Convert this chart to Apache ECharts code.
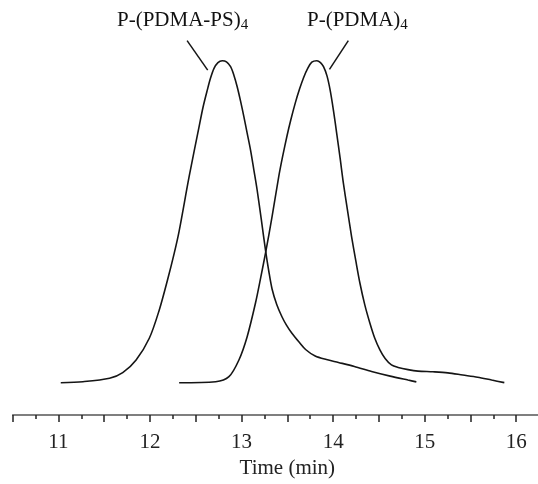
<!DOCTYPE html>
<html>
<head>
<meta charset="utf-8">
<script src="https://cdn.jsdelivr.net/npm/echarts@6/dist/echarts.min.js"></script>
<style>
  html, body { margin: 0; padding: 0; background: #fff; overflow: hidden; }
  /* the time axis runs on past the right edge of the window */
  #chart { width: 565px; height: 484px; }
</style>
</head>
<body>
<div id="chart"></div>
<script>
// GPC traces: elution time (min) vs. detector signal (arbitrary units)
const pdmaPsTime = [11.025, 11.267, 11.558, 11.702, 11.848, 11.992, 12.101, 12.191, 12.264, 12.318,
  12.427, 12.536, 12.579, 12.626, 12.661, 12.699, 12.742, 12.789, 12.835, 12.880,
  12.916, 12.952, 12.989, 13.025, 13.061, 13.098, 13.134, 13.170, 13.215, 13.264,
  13.297, 13.333, 13.384, 13.441, 13.492, 13.550, 13.623, 13.699, 13.804, 13.927,
  14.058, 14.232, 14.420, 14.623, 14.818, 14.909];
const pdmaPsSignal = [8.97, 9.25, 10.19, 11.75, 15.28, 21.31, 29.17, 37.5, 44.9, 51.1,
  66.2, 80.1, 85.5, 90.3, 93.6, 96.3, 97.9, 98.4, 98.1, 96.75,
  94.4, 91.2, 87.2, 82.9, 78.3, 73.6, 68.1, 62.5, 54.4, 45.3,
  40.0, 35.0, 30.7, 27.3, 24.9, 22.7, 20.4, 18.2, 16.4, 15.4,
  14.6, 13.5, 12.1, 10.8, 9.7, 9.2];

const pdmaTime = [12.318, 12.717, 12.862, 12.971, 13.061, 13.152, 13.210, 13.264, 13.333, 13.405,
  13.449, 13.496, 13.536, 13.587, 13.634, 13.677, 13.721, 13.767, 13.822, 13.862,
  13.895, 13.933, 13.967, 14.003, 14.039, 14.076, 14.112, 14.155, 14.202, 14.248,
  14.293, 14.346, 14.402, 14.454, 14.511, 14.568, 14.637, 14.710, 14.818, 14.927,
  15.090, 15.253, 15.416, 15.579, 15.732, 15.870];
const pdmaSignal = [8.97, 9.25, 10.64, 15.28, 21.75, 31.1, 38.3, 45.3, 55.1, 66.1,
  71.9, 77.5, 81.8, 86.7, 90.6, 93.7, 96.2, 98.0, 98.4, 97.9,
  96.75, 94.2, 90.3, 84.7, 78.25, 71.4, 64.4, 57.2, 49.5, 42.8,
  36.6, 30.6, 25.5, 21.4, 18.1, 15.7, 13.9, 13.2, 12.6, 12.2,
  12.0, 11.7, 11.1, 10.5, 9.7, 9.0];

const timeTickLabels = [11, 12, 13, 14, 15, 16];

// leader lines from the peak labels to each trace, in data units [time, signal]
const pdmaPsLeader = [[12.405, 104.0], [12.630, 95.8]];
const pdmaLeader = [[14.166, 104.0], [13.960, 96.0]];

const serif = '"Liberation Serif", "Times New Roman", serif';
const ink = '#151515';

function zip(xs, ys) { return xs.map((x, i) => [x, ys[i]]); }

function leader(pts) {
  return {
    silent: true,
    symbol: ['none', 'none'],
    label: { show: false },
    lineStyle: { color: ink, width: 1.5, type: 'solid' },
    emphasis: { disabled: true },
    data: [[{ coord: pts[0] }, { coord: pts[1] }]]
  };
}

const chart = echarts.init(document.getElementById('chart'), null, { renderer: 'canvas' });

const option = {
  animation: false,
  backgroundColor: '#fff',
  grid: { left: 12.7, right: 0.3, top: 19, bottom: 69, containLabel: false },
  xAxis: {
    type: 'value',
    min: 10.5,
    max: 16.5,
    interval: 0.5,
    name: 'Time (min)',
    nameLocation: 'middle',
    nameGap: 40,
    nameTextStyle: { fontFamily: serif, fontSize: 21, color: '#222' },
    axisLine: { show: true, onZero: false, lineStyle: { color: '#555', width: 1.6 } },
    axisTick: { show: true, inside: false, length: 7, lineStyle: { color: '#222', width: 1.5 } },
    minorTick: { show: true, splitNumber: 2, length: 4, lineStyle: { color: '#222', width: 1.5 } },
    splitLine: { show: false },
    minorSplitLine: { show: false },
    axisLabel: {
      margin: 17,
      fontFamily: serif,
      fontSize: 21,
      color: '#222',
      formatter: v => (timeTickLabels.includes(v) ? String(v) : '')
    }
  },
  yAxis: {
    type: 'value',
    min: 0,
    max: 110,
    show: false
  },
  series: [
    {
      name: 'P-(PDMA-PS)4',
      type: 'line',
      data: zip(pdmaPsTime, pdmaPsSignal),
      showSymbol: false,
      smooth: 0.3,
      lineStyle: { color: ink, width: 1.6 },
      markLine: leader(pdmaPsLeader)
    },
    {
      name: 'P-(PDMA)4',
      type: 'line',
      data: zip(pdmaTime, pdmaSignal),
      showSymbol: false,
      smooth: 0.3,
      lineStyle: { color: ink, width: 1.6 },
      markLine: leader(pdmaLeader)
    }
  ],
  graphic: [
    {
      type: 'text',
      x: 117,
      y: 8.6,
      silent: true,
      style: {
        text: '{m|P-(PDMA-PS)}{s|4}',
        fill: '#111',
        rich: {
          m: { fontFamily: serif, fontSize: 21, lineHeight: 24, fill: '#111' },
          s: { fontFamily: serif, fontSize: 15, lineHeight: 1, verticalAlign: 'bottom', fill: '#111' }
        }
      }
    },
    {
      type: 'text',
      x: 307,
      y: 8.6,
      silent: true,
      style: {
        text: '{m|P-(PDMA)}{s|4}',
        fill: '#111',
        rich: {
          m: { fontFamily: serif, fontSize: 21, lineHeight: 24, fill: '#111' },
          s: { fontFamily: serif, fontSize: 15, lineHeight: 1, verticalAlign: 'bottom', fill: '#111' }
        }
      }
    }
  ]
};

chart.setOption(option);
</script>
</body>
</html>
